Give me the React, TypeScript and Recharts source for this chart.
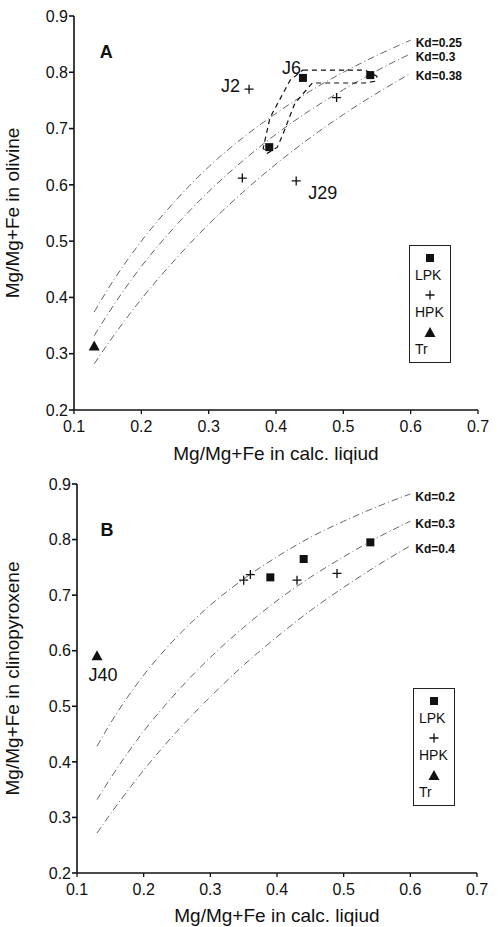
import React from 'react'
import { ComposedChart, Scatter, XAxis, YAxis, Legend } from 'recharts'

// liquid Mg# values the Kd curves were read at
const liqX = [0.13, 0.15, 0.2, 0.25, 0.3, 0.35, 0.4, 0.45, 0.5, 0.55, 0.6]

// panel A - olivine curves
const olKd025 = [0.374, 0.414, 0.5, 0.571, 0.632, 0.683, 0.727, 0.766, 0.8, 0.83, 0.857]
const olKd030 = [0.332, 0.37, 0.455, 0.526, 0.588, 0.642, 0.69, 0.732, 0.769, 0.803, 0.833]
const olKd038 = [0.282, 0.317, 0.397, 0.467, 0.53, 0.586, 0.637, 0.683, 0.725, 0.763, 0.798]

// panel B - clinopyroxene curves
const cpxKd020 = [0.428, 0.469, 0.556, 0.625, 0.682, 0.729, 0.769, 0.804, 0.833, 0.859, 0.882]
const cpxKd030 = [0.332, 0.37, 0.455, 0.526, 0.588, 0.642, 0.69, 0.732, 0.769, 0.803, 0.833]
const cpxKd040 = [0.272, 0.306, 0.385, 0.455, 0.517, 0.574, 0.625, 0.672, 0.714, 0.753, 0.789]

// samples, panel A
const olLPK = [
    { x: 0.44, y: 0.79 },
    { x: 0.54, y: 0.795 },
    { x: 0.39, y: 0.667 },
]
const olHPK = [
    { x: 0.36, y: 0.77 },
    { x: 0.49, y: 0.755 },
    { x: 0.35, y: 0.612 },
    { x: 0.43, y: 0.607 },
]
const olTr = [{ x: 0.13, y: 0.313 }]

// dashed outline around the J6 group (panel A)
const olOutline = [
    { x: 0.44, y: 0.804 },
    { x: 0.532, y: 0.804 },
    { x: 0.55, y: 0.793 },
    { x: 0.547, y: 0.784 },
    { x: 0.532, y: 0.781 },
    { x: 0.454, y: 0.781 },
    { x: 0.428, y: 0.745 },
    { x: 0.41, y: 0.689 },
    { x: 0.402, y: 0.667 },
    { x: 0.387, y: 0.656 },
    { x: 0.381, y: 0.665 },
    { x: 0.391, y: 0.719 },
    { x: 0.421, y: 0.786 },
    { x: 0.44, y: 0.804 },
]

// samples, panel B
const cpxLPK = [
    { x: 0.39, y: 0.732 },
    { x: 0.44, y: 0.765 },
    { x: 0.54, y: 0.795 },
]
const cpxHPK = [
    { x: 0.35, y: 0.727 },
    { x: 0.36, y: 0.737 },
    { x: 0.43, y: 0.727 },
    { x: 0.49, y: 0.739 },
]
const cpxTr = [{ x: 0.13, y: 0.59 }]

// text annotations
const olSampleLabels = [
    { x: 0.36, y: 0.77, text: 'J2' },
    { x: 0.44, y: 0.79, text: 'J6' },
    { x: 0.43, y: 0.607, text: 'J29' },
]
const cpxSampleLabels = [{ x: 0.13, y: 0.59, text: 'J40' }]
const olKdLabels = [
    { x: 0.6, y: 0.857, text: 'Kd=0.25' },
    { x: 0.6, y: 0.833, text: 'Kd=0.3' },
    { x: 0.6, y: 0.798, text: 'Kd=0.38' },
]
const cpxKdLabels = [
    { x: 0.6, y: 0.882, text: 'Kd=0.2' },
    { x: 0.6, y: 0.833, text: 'Kd=0.3' },
    { x: 0.6, y: 0.789, text: 'Kd=0.4' },
]
const olTag = [{ x: 0.148, y: 0.836, text: 'A' }]
const cpxTag = [{ x: 0.145, y: 0.818, text: 'B' }]

const legendNames = ['LPK', 'HPK', 'Tr']
const xTicks = [0.1, 0.2, 0.3, 0.4, 0.5, 0.6, 0.7]
const yTicks = [0.2, 0.3, 0.4, 0.5, 0.6, 0.7, 0.8, 0.9]

const FONT = '"Liberation Sans", Arial, sans-serif'

// where each sample label sits relative to its point
const labelOffsets: { [key: string]: { dx: number; dy: number; anchor: string } } = {
    J2: { dx: -9, dy: -3, anchor: 'end' },
    J6: { dx: -2, dy: -10, anchor: 'end' },
    J29: { dx: 12, dy: 12, anchor: 'start' },
    J40: { dx: 6, dy: 19, anchor: 'middle' },
}

const zip = (ys: number[]) => liqX.map((x, i) => ({ x, y: ys[i] }))

const Square = (props: any) => (
    <rect x={props.cx - 4} y={props.cy - 4} width={8} height={8} fill="#111" />
)
const Plus = (props: any) => (
    <path
        d={`M${props.cx - 4.5},${props.cy}h9M${props.cx},${props.cy - 4.5}v9`}
        stroke="#111"
        strokeWidth={1.3}
    />
)
const Triangle = (props: any) => (
    <path
        d={`M${props.cx},${props.cy - 6}L${props.cx + 5.5},${props.cy + 4}L${props.cx - 5.5},${props.cy + 4}Z`}
        fill="#111"
    />
)
const Nothing = () => <g />

const SampleLabel = (props: any) => {
    const o = labelOffsets[props.payload.text] || { dx: 0, dy: 0, anchor: 'middle' }
    return (
        <text x={props.cx + o.dx} y={props.cy + o.dy} textAnchor={o.anchor} dominantBaseline="central"
            fontFamily={FONT} fontSize={18} fill="#111">
            {props.payload.text}
        </text>
    )
}
const KdLabel = (props: any) => (
    <text x={props.cx + 5} y={props.cy + 3} textAnchor="start" dominantBaseline="central"
        fontFamily={FONT} fontSize={12} fontWeight="bold" fill="#111">
        {props.payload.text}
    </text>
)
const TagLabel = (props: any) => (
    <text x={props.cx} y={props.cy} textAnchor="middle" dominantBaseline="central"
        fontFamily={FONT} fontSize={18} fontWeight="bold" fill="#111">
        {props.payload.text}
    </text>
)

const legendIcon = (name: string) => {
    if (name === 'LPK') return <Square cx={8} cy={8} />
    if (name === 'HPK') return <Plus cx={8} cy={8} />
    return <Triangle cx={8} cy={9} />
}

// only the three sample types go in the box, in this order
const renderLegend = () => (
    <div style={{
        width: 42, height: 118, border: '1px solid #222', boxSizing: 'border-box', paddingTop: 4,
        fontFamily: FONT, fontSize: 14, color: '#111', background: '#fff',
    }}>
        {legendNames.map((name) => (
            <div key={name} style={{ height: 37 }}>
                <svg width={16} height={16} style={{ display: 'block', marginLeft: 12 }}>
                    {legendIcon(name)}
                </svg>
                <div style={{ lineHeight: '18px', paddingLeft: 5 }}>{name}</div>
            </div>
        ))}
    </div>
)

interface PanelProps {
    height: number
    margin: { top: number; right: number; left: number; bottom: number }
    yAxisWidth: number
    xAxisHeight: number
    xTitleOffset: number
    yTitle: string
    curves: number[][]
    outline?: { x: number; y: number }[]
    lpk: { x: number; y: number }[]
    hpk: { x: number; y: number }[]
    tr: { x: number; y: number }[]
    sampleLabels: { x: number; y: number; text: string }[]
    kdLabels: { x: number; y: number; text: string }[]
    tag: { x: number; y: number; text: string }[]
    legendPos: { left: number; top: number }
}

function Panel(p: PanelProps) {
    const tickStyle = { fontFamily: FONT, fontSize: 16, fill: '#111' }
    const titleStyle = { fontFamily: FONT, fontSize: 19, fill: '#111' }
    return (
        <ComposedChart width={498} height={p.height} margin={p.margin}>
            <XAxis
                dataKey="x"
                type="number"
                domain={[0.1, 0.7]}
                ticks={xTicks}
                tickFormatter={(v) => v.toFixed(1)}
                height={p.xAxisHeight}
                tick={tickStyle}
                tickSize={4}
                tickMargin={7}
                stroke="#111"
                strokeWidth={1.3}
                allowDataOverflow
                label={{ value: 'Mg/Mg+Fe in calc. liqiud', position: 'insideBottom', offset: p.xTitleOffset, style: titleStyle }}
            />
            <YAxis
                dataKey="y"
                type="number"
                domain={[0.2, 0.9]}
                ticks={yTicks}
                tickFormatter={(v) => v.toFixed(1)}
                width={p.yAxisWidth}
                tick={tickStyle}
                tickSize={5}
                tickMargin={1}
                stroke="#111"
                strokeWidth={1.6}
                allowDataOverflow
                label={{ value: p.yTitle, angle: -90, position: 'insideLeft', offset: 12, style: { ...titleStyle, textAnchor: 'middle' } }}
            />
            <XAxis xAxisId="top" orientation="top" type="number" domain={[0.1, 0.7]} height={0} tick={false} tickLine={false} stroke="#333" />
            <YAxis yAxisId="right" orientation="right" type="number" domain={[0.2, 0.9]} width={0} tick={false} tickLine={false} stroke="#333" strokeWidth={1.3} />

            {p.curves.map((ys, i) => (
                <Scatter
                    key={'kd' + i}
                    data={zip(ys)}
                    shape={Nothing}
                    line={{ stroke: '#666', strokeWidth: 1, strokeDasharray: '7 3 1 3' }}
                    lineJointType="monotoneX"
                    legendType="none"
                    isAnimationActive={false}
                />
            ))}
            {p.outline && (
                <Scatter
                    data={p.outline}
                    shape={Nothing}
                    line={{ stroke: '#111', strokeWidth: 1.2, strokeDasharray: '5 4' }}
                    legendType="none"
                    isAnimationActive={false}
                />
            )}
            <Scatter name="LPK" data={p.lpk} shape={Square} isAnimationActive={false} />
            <Scatter name="HPK" data={p.hpk} shape={Plus} isAnimationActive={false} />
            <Scatter name="Tr" data={p.tr} shape={Triangle} isAnimationActive={false} />
            <Scatter data={p.sampleLabels} shape={SampleLabel} legendType="none" isAnimationActive={false} />
            <Scatter data={p.kdLabels} shape={KdLabel} legendType="none" isAnimationActive={false} />
            <Scatter data={p.tag} shape={TagLabel} legendType="none" isAnimationActive={false} />

            <Legend
                layout="vertical"
                align="center"
                verticalAlign="middle"
                content={renderLegend}
                wrapperStyle={{ left: p.legendPos.left, top: p.legendPos.top, width: 42, height: 118 }}
            />
        </ComposedChart>
    )
}

export default function App() {
    return (
        <div style={{ position: 'absolute', left: 0, top: 0, width: 498, height: 927, background: '#fff' }}>
            <div style={{ position: 'absolute', left: 0, top: 0 }}>
                <Panel
                    height={468}
                    margin={{ top: 16, right: 20, left: 0, bottom: 8 }}
                    yAxisWidth={74}
                    xAxisHeight={50}
                    xTitleOffset={0}
                    yTitle="Mg/Mg+Fe in olivine"
                    curves={[olKd025, olKd030, olKd038]}
                    outline={olOutline}
                    lpk={olLPK}
                    hpk={olHPK}
                    tr={olTr}
                    sampleLabels={olSampleLabels}
                    kdLabels={olKdLabels}
                    tag={olTag}
                    legendPos={{ left: 409, top: 245 }}
                />
            </div>
            <div style={{ position: 'absolute', left: 0, top: 460 }}>
                <Panel
                    height={467}
                    margin={{ top: 24, right: 21, left: 0, bottom: 0 }}
                    yAxisWidth={77}
                    xAxisHeight={54}
                    xTitleOffset={5}
                    yTitle="Mg/Mg+Fe in clinopyroxene"
                    curves={[cpxKd020, cpxKd030, cpxKd040]}
                    lpk={cpxLPK}
                    hpk={cpxHPK}
                    tr={cpxTr}
                    sampleLabels={cpxSampleLabels}
                    kdLabels={cpxKdLabels}
                    tag={cpxTag}
                    legendPos={{ left: 413, top: 228 }}
                />
            </div>
        </div>
    )
}
